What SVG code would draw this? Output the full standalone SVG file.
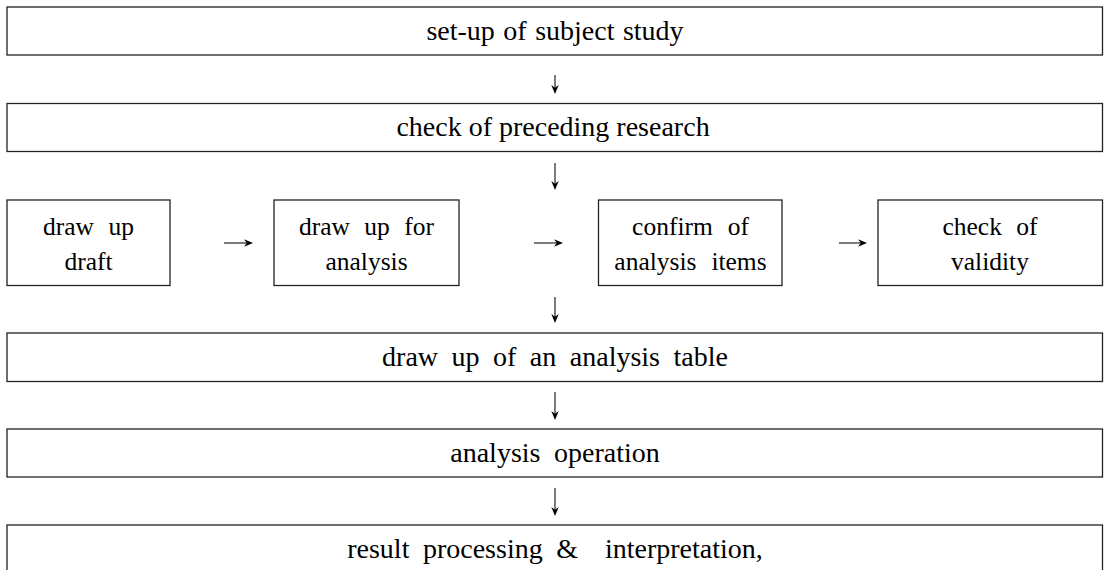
<svg xmlns="http://www.w3.org/2000/svg" width="1104" height="570" viewBox="0 0 1104 570">
<rect width="1104" height="570" fill="#fff"/>
<g id="n1"><rect x="7" y="7" width="1095.5" height="48" fill="#fff" stroke="#222" stroke-width="1.3"/><text x="555" y="40" font-family="Liberation Serif, serif" font-size="28" text-anchor="middle" word-spacing="1.5">set-up of subject study</text></g>
<g id="n2"><rect x="7" y="103.5" width="1095.5" height="48" fill="#fff" stroke="#222" stroke-width="1.3"/><text x="553" y="136" font-family="Liberation Serif, serif" font-size="28" text-anchor="middle">check of preceding research</text></g>
<g id="n3"><rect x="7" y="200" width="163" height="85.5" fill="#fff" stroke="#222" stroke-width="1.3"/><text x="88.5" y="235" font-family="Liberation Serif, serif" font-size="25.5" text-anchor="middle" word-spacing="8">draw up</text><text x="88.5" y="270" font-family="Liberation Serif, serif" font-size="25.5" text-anchor="middle">draft</text></g>
<g id="n4"><rect x="274" y="200" width="185" height="85.5" fill="#fff" stroke="#222" stroke-width="1.3"/><text x="366.5" y="235" font-family="Liberation Serif, serif" font-size="25.5" text-anchor="middle" word-spacing="8">draw up for</text><text x="366.5" y="270" font-family="Liberation Serif, serif" font-size="25.5" text-anchor="middle">analysis</text></g>
<g id="n5"><rect x="598.5" y="200" width="183.5" height="85.5" fill="#fff" stroke="#222" stroke-width="1.3"/><text x="690.5" y="235" font-family="Liberation Serif, serif" font-size="25.5" text-anchor="middle" word-spacing="8.5">confirm of</text><text x="690.5" y="270" font-family="Liberation Serif, serif" font-size="25.5" text-anchor="middle" word-spacing="8.5">analysis items</text></g>
<g id="n6"><rect x="878" y="200" width="224.5" height="85.5" fill="#fff" stroke="#222" stroke-width="1.3"/><text x="990" y="235" font-family="Liberation Serif, serif" font-size="25.5" text-anchor="middle" word-spacing="8">check of</text><text x="990" y="270" font-family="Liberation Serif, serif" font-size="25.5" text-anchor="middle">validity</text></g>
<g id="n7"><rect x="7" y="333" width="1095.5" height="48.5" fill="#fff" stroke="#222" stroke-width="1.3"/><text x="555" y="366" font-family="Liberation Serif, serif" font-size="28" text-anchor="middle" word-spacing="6.5">draw up of an analysis table</text></g>
<g id="n8"><rect x="7" y="429" width="1095.5" height="48" fill="#fff" stroke="#222" stroke-width="1.3"/><text x="555" y="462" font-family="Liberation Serif, serif" font-size="28" text-anchor="middle" word-spacing="6.5">analysis operation</text></g>
<g id="n9"><rect x="7" y="525" width="1095.5" height="60" fill="#fff" stroke="#222" stroke-width="1.3"/><text x="555" y="558" font-family="Liberation Serif, serif" font-size="28" text-anchor="middle" word-spacing="6.5">result processing &amp;&#160; interpretation,</text></g>
<g id="connectors">
<g stroke="#444" stroke-width="1.4" fill="none">
<line x1="555" y1="75" x2="555" y2="88"/>
<line x1="555" y1="163" x2="555" y2="184"/>
<line x1="224" y1="243" x2="247" y2="243"/>
<line x1="534" y1="243" x2="557" y2="243"/>
<line x1="839" y1="243" x2="861" y2="243"/>
<line x1="555" y1="297" x2="555" y2="317"/>
<line x1="555" y1="392" x2="555" y2="414"/>
<line x1="555" y1="488" x2="555" y2="510"/>
</g>
<g fill="#000">
<path d="M551.3,85 L555,94 L558.7,85 L555,87.8 z"/>
<path d="M551.3,181 L555,190 L558.7,181 L555,183.8 z"/>
<path d="M244,239.3 L253,243 L244,246.7 L246.8,243 z"/>
<path d="M554,239.3 L563,243 L554,246.7 L556.8,243 z"/>
<path d="M858,239.3 L867,243 L858,246.7 L860.8,243 z"/>
<path d="M551.3,314 L555,323 L558.7,314 L555,316.8 z"/>
<path d="M551.3,411 L555,420 L558.7,411 L555,413.8 z"/>
<path d="M551.3,507 L555,516 L558.7,507 L555,509.8 z"/>
</g>
</g>
</svg>
